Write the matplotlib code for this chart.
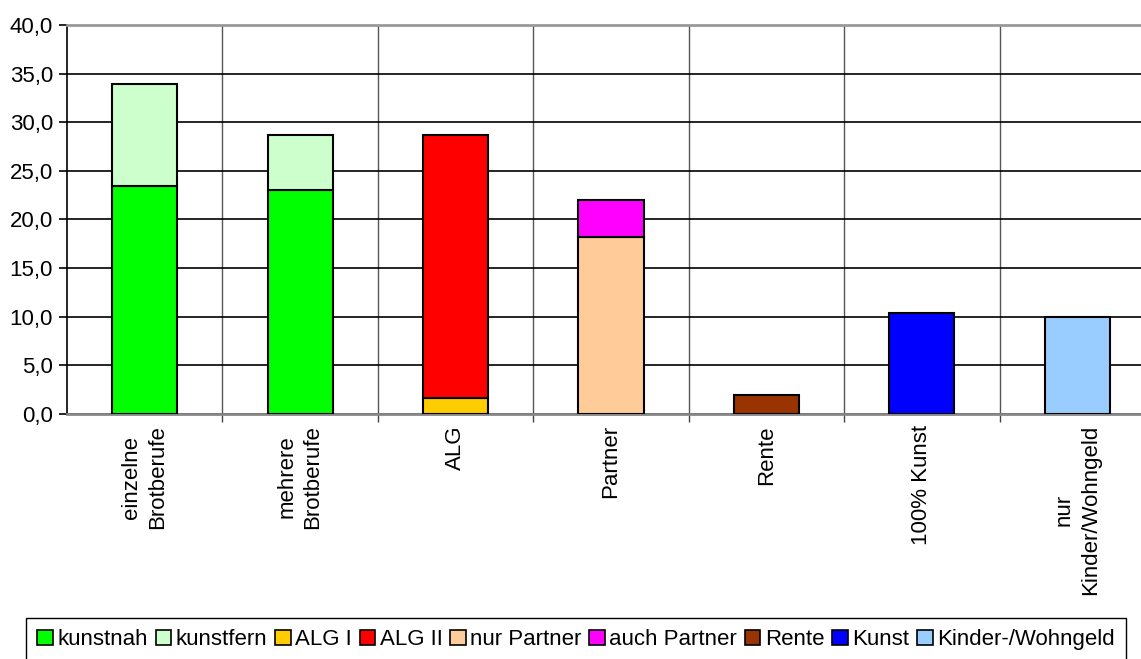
import matplotlib
matplotlib.use("Agg")
from matplotlib import pyplot as plt
from matplotlib.patches import Patch
import numpy as np

plt.rcParams['font.family'] = ['Liberation Sans', 'DejaVu Sans']

categories = ["einzelne\nBrotberufe", "mehrere\nBrotberufe", "ALG", "Partner",
              "Rente", "100% Kunst", "nur\nKinder/Wohngeld"]

# stacked values per category (bottom segment first)
kunstnah = [23.4, 23.0]
kunstfern = [10.5, 5.7]
alg1 = 1.6
alg2 = 27.1
nur_partner = 18.2
auch_partner = 3.8
rente = 2.0
kunst = 10.4
kinder = 10.0

labels = ["kunstnah", "kunstfern", "ALG I", "ALG II", "nur Partner",
          "auch Partner", "Rente", "Kunst", "Kinder-/Wohngeld"]
colors = ["#00ff00", "#ccffcc", "#ffcc00", "#ff0000", "#ffcc99",
          "#ff00ff", "#993300", "#0000ff", "#99ccff"]

fig = plt.figure(figsize=(11.41, 6.59), dpi=100)
ax = fig.add_axes([67/1141, 1-414/659, 1088/1141, 389/659])

w = 0.42
kw = dict(width=w, edgecolor="black", linewidth=1.5, zorder=3)
x = np.arange(len(categories))
ax.bar(x[:2], kunstnah, color=colors[0], **kw)
ax.bar(x[:2], kunstfern, bottom=kunstnah, color=colors[1], **kw)
ax.bar(x[2], alg1, color=colors[2], **kw)
ax.bar(x[2], alg2, bottom=alg1, color=colors[3], **kw)
ax.bar(x[3], nur_partner, color=colors[4], **kw)
ax.bar(x[3], auch_partner, bottom=nur_partner, color=colors[5], **kw)
ax.bar(x[4], rente, color=colors[6], **kw)
ax.bar(x[5], kunst, color=colors[7], **kw)
ax.bar(x[6], kinder, color=colors[8], **kw)

ax.set_xlim(-0.5, len(categories) - 0.5)
ax.set_ylim(0, 40)
ax.set_yticks(np.arange(0, 41, 5))
ax.set_yticklabels([f"{v:.1f}".replace(".", ",") for v in np.arange(0, 41, 5)], fontsize=16)
ax.yaxis.grid(True, color="black", linewidth=1.2, zorder=0)
ax.tick_params(axis="y", direction="out", length=6, width=1.2, pad=4)

ax.set_xticks(x)
ax.set_xticklabels(categories, rotation=90, fontsize=16, va="top", ha="center",
                   multialignment="center", linespacing=1.3)
ax.tick_params(axis="x", which="major", length=0, pad=8)
ax.set_xticks(np.arange(0.5, len(categories) - 0.5), minor=True)
ax.tick_params(axis="x", which="minor", direction="out", length=6, width=1, color="#444444")
ax.xaxis.grid(True, which="minor", color="#555555", linewidth=1.0, zorder=0)
ax.set_axisbelow(True)

ax.spines["left"].set_color("black")
ax.spines["left"].set_linewidth(1.2)
ax.spines["bottom"].set_color("#888888")
ax.spines["bottom"].set_linewidth(2)
ax.spines["top"].set_color("#999999")
ax.spines["top"].set_linewidth(2)
ax.spines["right"].set_visible(False)

handles = [Patch(facecolor=c, edgecolor="black", linewidth=1.2) for c in colors]
leg = fig.legend(handles, labels, ncol=9, loc="upper center",
                 bbox_to_anchor=(576/1141, 1-607/659),
                 prop={"size": 16},
                 handlelength=0.7, handleheight=0.7, handletextpad=0.2,
                 columnspacing=0.35, borderpad=0.5, borderaxespad=0.5,
                 fancybox=False, edgecolor="black", framealpha=1)
leg.get_frame().set_linewidth(1.0)

fig.savefig("out.png", dpi=100)
